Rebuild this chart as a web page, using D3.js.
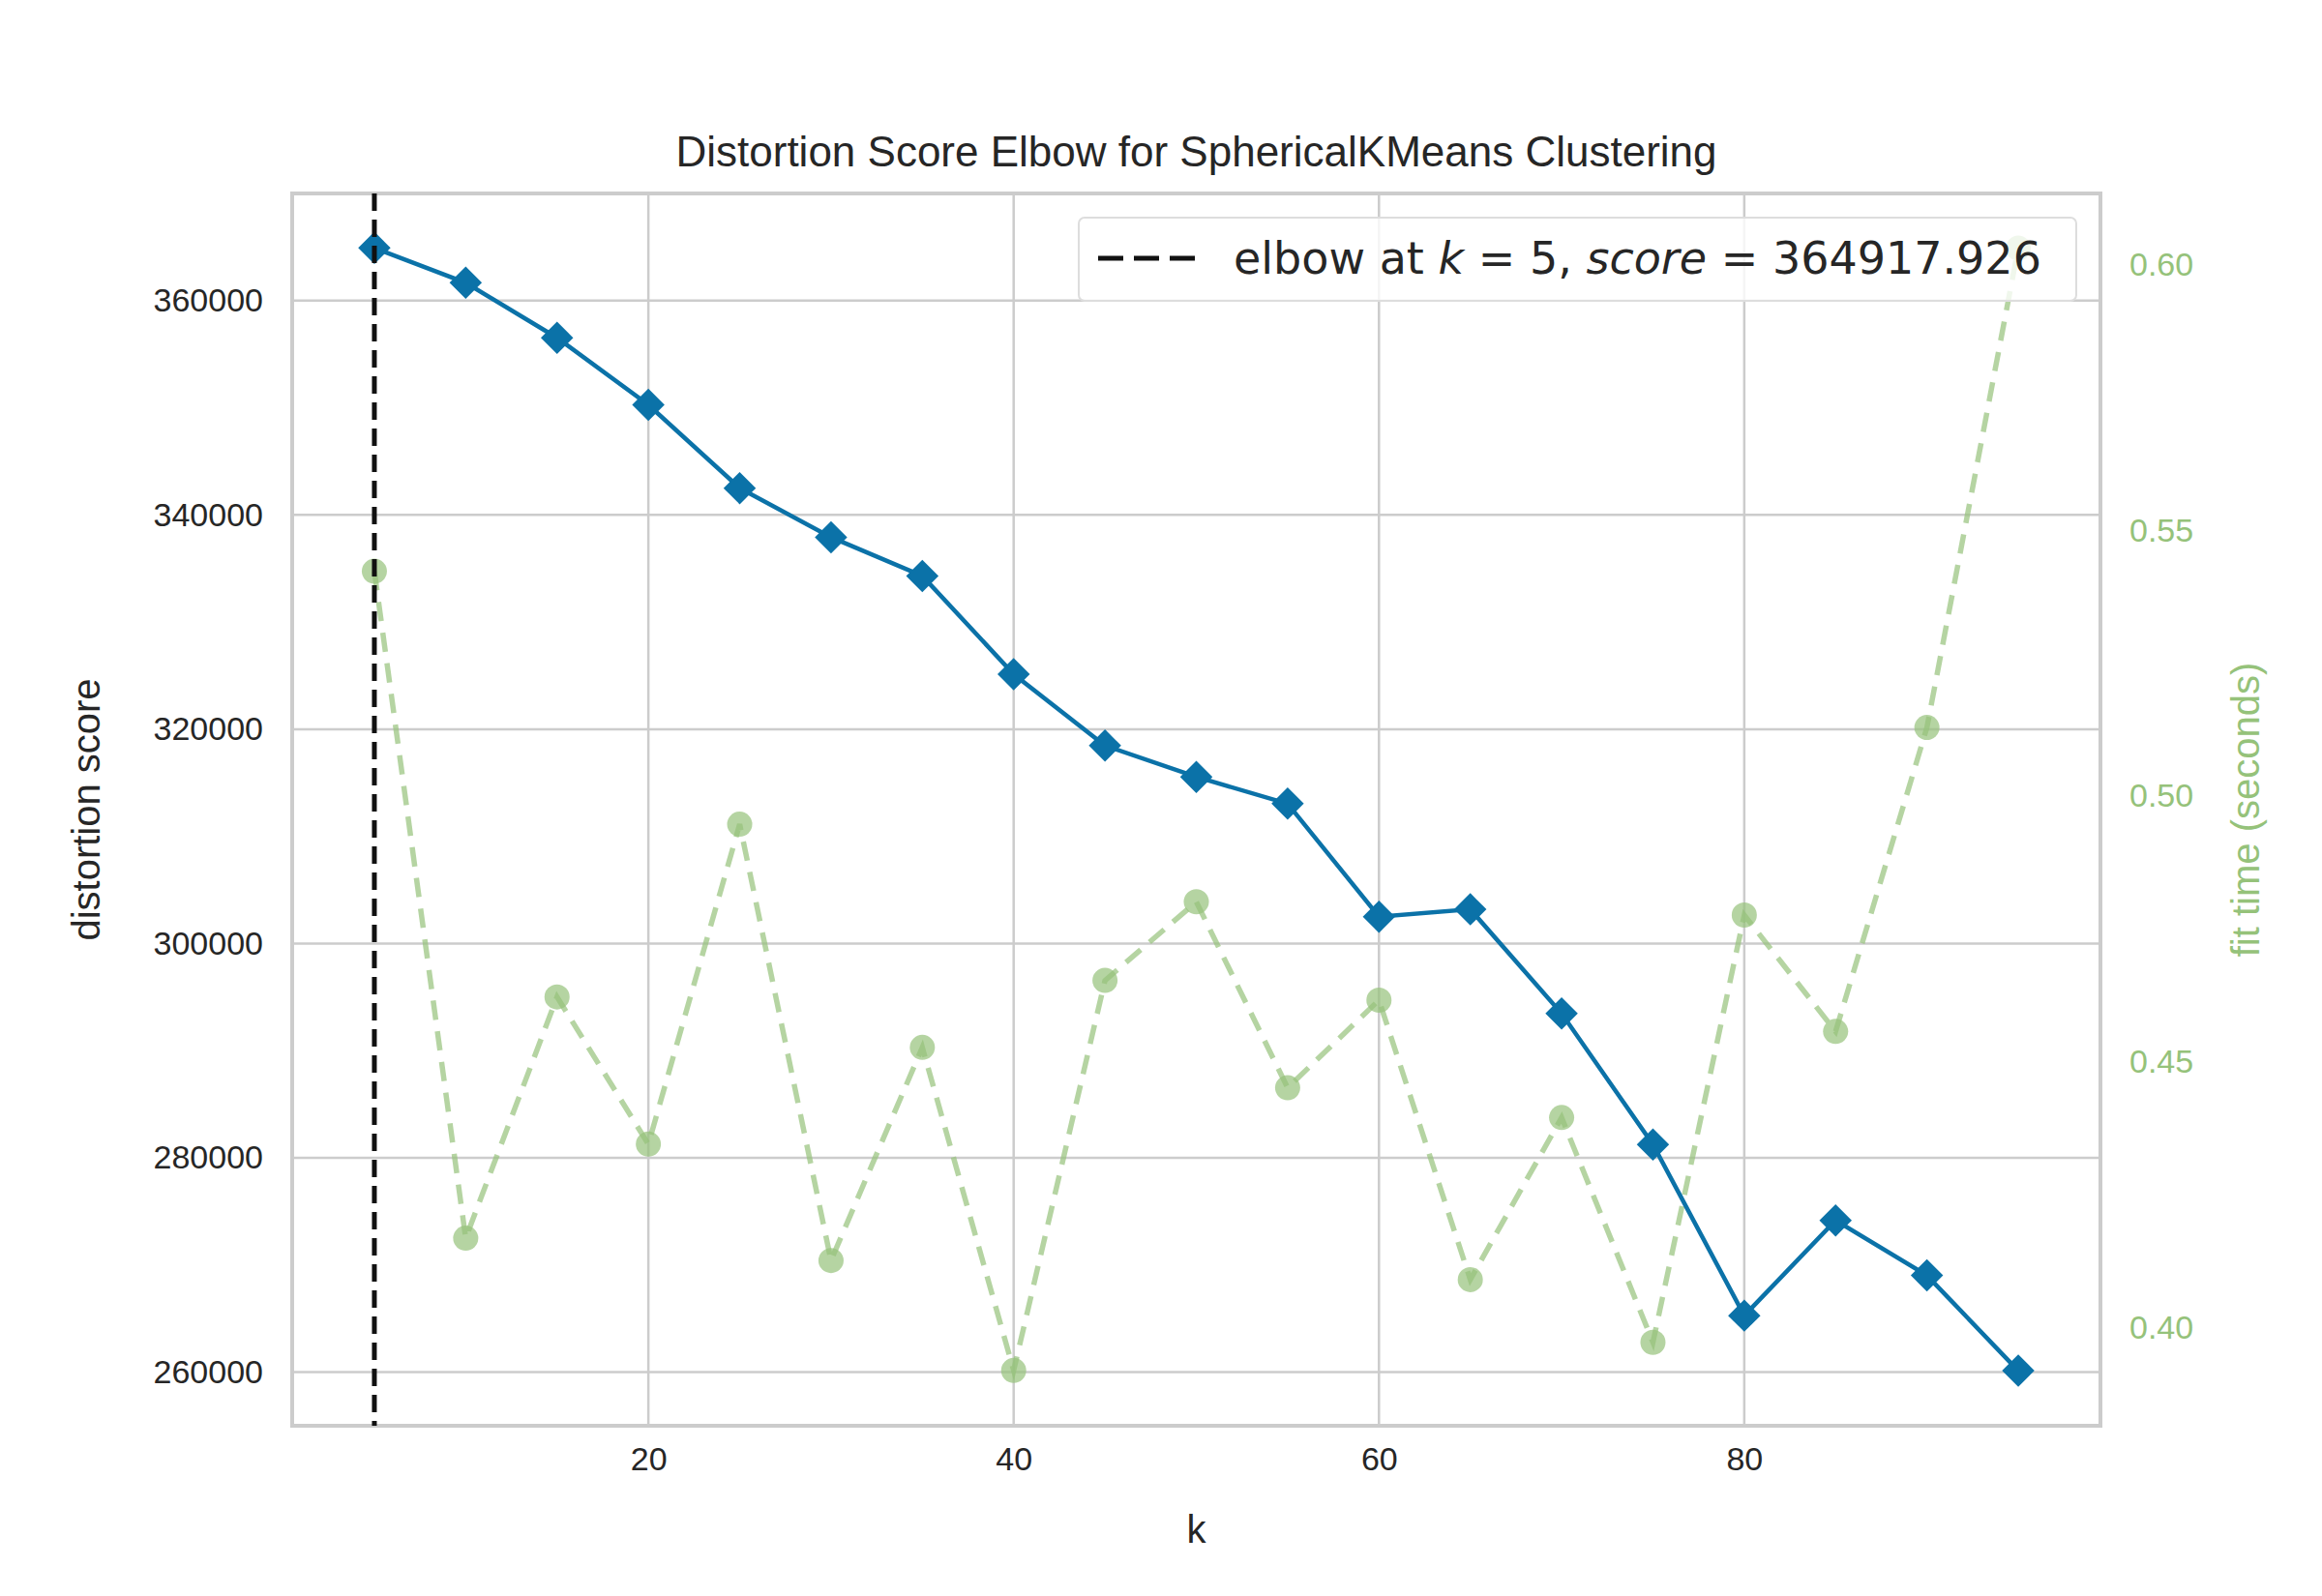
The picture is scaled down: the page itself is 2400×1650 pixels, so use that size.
<!DOCTYPE html>
<html><head><meta charset="utf-8">
<script src="https://cdn.jsdelivr.net/npm/d3@7"></script>
<style>body{margin:0;background:#fff}</style>
</head><body>
<script>
// chart data
var ks = [5,10,15,20,25,30,35,40,45,50,55,60,65,70,75,80,85,90,95];
var scores = [364918,361667,356528,350278,342500,337917,334306,325139,318472,315556,313056,302500,303194,293472,281250,265278,274167,269028,260139];
var fitTimes = [0.5423,0.4168,0.4622,0.4345,0.4947,0.4126,0.4527,0.3919,0.4653,0.4801,0.4451,0.4616,0.4090,0.4395,0.3972,0.4776,0.4557,0.5129,0.6031];
var xTicks = [20,40,60,80];
var yTicks = [260000,280000,300000,320000,340000,360000];
var y2Ticks = [0.40,0.45,0.50,0.55,0.60];
var elbowK = 5, elbowScore = 364917.926;

var W = 2400, H = 1650;
var pLeft = 302, pRight = 2171, pTop = 200, pBottom = 1474;
var blue = "#0b72a8", green = "#95c27a";

var svg = d3.select("body").append("svg").attr("width", W).attr("height", H)
  .style("font-family", "'Liberation Sans', Arial, sans-serif");

var x = d3.scaleLinear().domain([0.5, 99.5]).range([pLeft, pRight]);
var y = d3.scaleLinear().domain([255000, 370000]).range([pBottom, pTop]);
var y2 = d3.scaleLinear().domain([0.3815, 0.6134]).range([pBottom, pTop]);

// grid
svg.append("g").selectAll("line").data(xTicks).enter().append("line")
  .attr("x1", d => x(d)).attr("x2", d => x(d)).attr("y1", pTop).attr("y2", pBottom)
  .attr("stroke", "#cccccc").attr("stroke-width", 2.5);
svg.append("g").selectAll("line").data(yTicks).enter().append("line")
  .attr("x1", pLeft).attr("x2", pRight).attr("y1", d => y(d)).attr("y2", d => y(d))
  .attr("stroke", "#cccccc").attr("stroke-width", 2.5);

// axes
var ax = svg.append("g").attr("transform", "translate(0," + pBottom + ")")
  .call(d3.axisBottom(x).tickValues(xTicks).tickSize(0).tickPadding(22));
var ay = svg.append("g").attr("transform", "translate(" + pLeft + ",0)")
  .call(d3.axisLeft(y).tickValues(yTicks).tickSize(0).tickPadding(30).tickFormat(d3.format("d")));
var ay2 = svg.append("g").attr("transform", "translate(" + pRight + ",0)")
  .call(d3.axisRight(y2).tickValues(y2Ticks).tickSize(0).tickPadding(30).tickFormat(d3.format(".2f")));
[ax, ay, ay2].forEach(function (g) {
  g.select(".domain").remove();
  g.selectAll("text").attr("font-size", 34).attr("fill", "#262626");
});
ay2.selectAll("text").attr("fill", green);

// frame
svg.append("rect").attr("x", pLeft).attr("y", pTop).attr("width", pRight - pLeft).attr("height", pBottom - pTop)
  .attr("fill", "none").attr("stroke", "#cccccc").attr("stroke-width", 4);

// fit time series
svg.append("path").datum(ks)
  .attr("d", d3.line().x(d => x(d)).y((d, i) => y2(fitTimes[i])))
  .attr("fill", "none").attr("stroke", green).attr("stroke-width", 5.5)
  .attr("stroke-dasharray", "20,12").attr("opacity", 0.7);
svg.append("g").selectAll("circle").data(ks).enter().append("circle")
  .attr("cx", d => x(d)).attr("cy", (d, i) => y2(fitTimes[i])).attr("r", 13)
  .attr("fill", green).attr("opacity", 0.7);

// distortion series
svg.append("path").datum(ks)
  .attr("d", d3.line().x(d => x(d)).y((d, i) => y(scores[i])))
  .attr("fill", "none").attr("stroke", blue).attr("stroke-width", 4.5);
svg.append("g").selectAll("path").data(ks).enter().append("path")
  .attr("d", d3.symbol().type(d3.symbolSquare).size(560))
  .attr("transform", (d, i) => "translate(" + x(d) + "," + y(scores[i]) + ") rotate(45)")
  .attr("fill", blue);

// elbow line
svg.append("line").attr("x1", x(elbowK)).attr("x2", x(elbowK)).attr("y1", pTop).attr("y2", pBottom)
  .attr("stroke", "#111").attr("stroke-width", 5).attr("stroke-dasharray", "18,9");

// legend
svg.append("rect").attr("x", 1115).attr("y", 225).attr("width", 1031).attr("height", 86)
  .attr("rx", 6).attr("fill", "#fff").attr("fill-opacity", 0.8).attr("stroke", "#dddddd").attr("stroke-width", 2);
svg.append("line").attr("x1", 1135).attr("x2", 1235).attr("y1", 267).attr("y2", 267)
  .attr("stroke", "#111").attr("stroke-width", 5).attr("stroke-dasharray", "26,11");
var lt = svg.append("text").attr("x", 1275).attr("y", 283).attr("font-size", 46)
  .attr("font-family", "'DejaVu Sans', sans-serif").attr("fill", "#262626");
lt.append("tspan").text("elbow at ");
lt.append("tspan").attr("font-style", "italic").text("k");
lt.append("tspan").text(" = " + elbowK + ", ");
lt.append("tspan").attr("font-style", "italic").text("score");
lt.append("tspan").text(" = " + elbowScore.toFixed(3));

// titles
svg.append("text").attr("x", (pLeft + pRight) / 2).attr("y", 172).attr("text-anchor", "middle")
  .attr("font-size", 44).attr("fill", "#262626").text("Distortion Score Elbow for SphericalKMeans Clustering");
svg.append("text").attr("x", (pLeft + pRight) / 2).attr("y", 1595).attr("text-anchor", "middle")
  .attr("font-size", 40).attr("fill", "#262626").text("k");
svg.append("text").attr("transform", "translate(103," + (pTop + pBottom) / 2 + ") rotate(-90)")
  .attr("text-anchor", "middle").attr("font-size", 40).attr("fill", "#262626").text("distortion score");
svg.append("text").attr("transform", "translate(2335," + (pTop + pBottom) / 2 + ") rotate(-90)")
  .attr("text-anchor", "middle").attr("font-size", 40).attr("fill", green).text("fit time (seconds)");
</script>
</body></html>
